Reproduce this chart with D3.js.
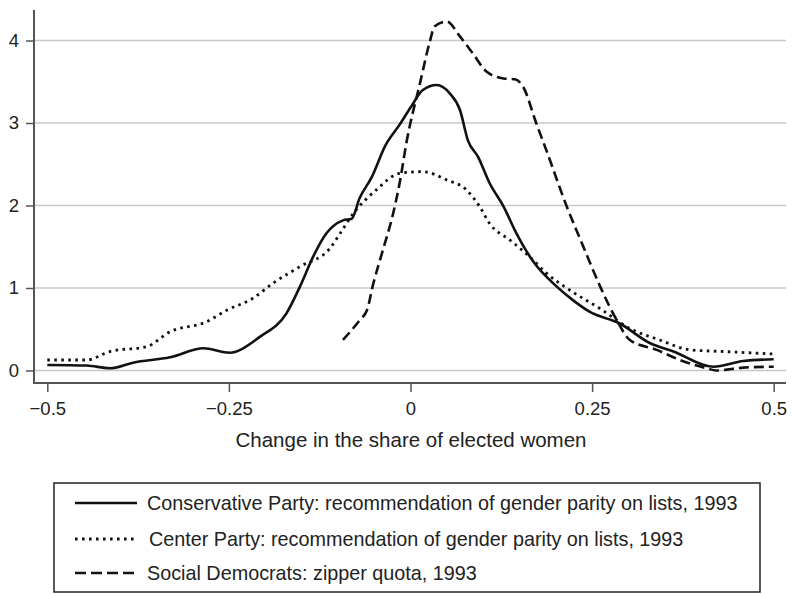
<!DOCTYPE html>
<html>
<head>
<meta charset="utf-8">
<script src="https://cdn.jsdelivr.net/npm/d3@7"></script>
<style>
  html, body { margin: 0; padding: 0; background: #fff; }
  svg { display: block; }
  text { font-family: "Liberation Sans", Arial, Helvetica, sans-serif; fill: #222; }
</style>
</head>
<body>
<svg id="chart" width="792" height="594"></svg>
<script>
// ---- data ----
const xTicks = [-0.5, -0.25, 0, 0.25, 0.5];
const xTickLabels = ["\u22120.5", "\u22120.25", "0", "0.25", "0.5"];
const yTicks = [0, 1, 2, 3, 4];
const yTickLabels = ["0", "1", "2", "3", "4"];
const xTitle = "Change in the share of elected women";
const seriesNames = [
  "Conservative Party: recommendation of gender parity on lists, 1993",
  "Center Party: recommendation of gender parity on lists, 1993",
  "Social Democrats: zipper quota, 1993"
];

const conservativeX = [-0.5, -0.446, -0.414, -0.382, -0.331, -0.285, -0.249, -0.207, -0.171, -0.152, -0.134, -0.116, -0.093, -0.081, -0.07, -0.053, -0.035, -0.015, 0.001, 0.017, 0.036, 0.054, 0.068, 0.079, 0.093, 0.109, 0.128, 0.146, 0.169, 0.201, 0.224, 0.247, 0.288, 0.33, 0.362, 0.417, 0.458, 0.5];
const conservativeY = [0.067, 0.06, 0.027, 0.095, 0.16, 0.27, 0.216, 0.41, 0.69, 1.02, 1.38, 1.66, 1.82, 1.84, 2.09, 2.35, 2.72, 2.98, 3.2, 3.4, 3.46, 3.36, 3.16, 2.79, 2.59, 2.27, 1.99, 1.66, 1.32, 1.02, 0.85, 0.71, 0.57, 0.33, 0.23, 0.046, 0.115, 0.136];

const centerX = [-0.5, -0.446, -0.414, -0.363, -0.331, -0.281, -0.253, -0.217, -0.189, -0.152, -0.111, -0.097, -0.079, -0.047, -0.015, 0.017, 0.05, 0.077, 0.095, 0.109, 0.137, 0.164, 0.187, 0.219, 0.261, 0.302, 0.343, 0.385, 0.431, 0.5];
const centerY = [0.127, 0.127, 0.23, 0.29, 0.47, 0.59, 0.73, 0.875, 1.06, 1.26, 1.48, 1.66, 1.9, 2.19, 2.39, 2.41, 2.31, 2.19, 1.99, 1.78, 1.58, 1.38, 1.18, 0.976, 0.75, 0.51, 0.37, 0.25, 0.23, 0.2];

const socdemX = [-0.093, -0.07, -0.06, -0.051, -0.038, -0.024, -0.015, -0.005, 0.013, 0.027, 0.033, 0.05, 0.068, 0.086, 0.105, 0.128, 0.144, 0.155, 0.173, 0.187, 0.215, 0.238, 0.261, 0.284, 0.302, 0.339, 0.371, 0.408, 0.421, 0.458, 0.5];
const socdemY = [0.37, 0.61, 0.73, 1.06, 1.46, 1.9, 2.27, 2.79, 3.48, 4.0, 4.17, 4.23, 4.05, 3.84, 3.62, 3.54, 3.53, 3.44, 3.0, 2.67, 1.99, 1.5, 1.02, 0.61, 0.37, 0.25, 0.127, 0.027, 0.0, 0.035, 0.046];

// ---- layout ----
const svg = d3.select("#chart");
const axisLeftX = 34, axisBottomY = 383, plotRight = 786, plotTop = 10;
const x = d3.scaleLinear().domain([-0.5, 0.5]).range([47.3, 773.7]);
const y = d3.scaleLinear().domain([0, 4]).range([370.5, 40.5]);
const axisColor = "#555";

// gridlines
svg.append("g").selectAll("line").data(yTicks).join("line")
  .attr("x1", axisLeftX).attr("x2", plotRight)
  .attr("y1", d => y(d)).attr("y2", d => y(d))
  .attr("stroke", "#c8c8c8").attr("stroke-width", 1.3);

// y axis
const yAxis = d3.axisLeft(y).tickValues(yTicks).tickFormat((d, i) => yTickLabels[i]).tickSize(8).tickPadding(7);
const gy = svg.append("g").attr("transform", `translate(${axisLeftX},0)`).call(yAxis);
gy.select(".domain").remove();
gy.selectAll(".tick line").attr("stroke", axisColor).attr("stroke-width", 1.5);
gy.selectAll(".tick text").attr("font-size", 18.5).attr("fill", "#222")
  .attr("font-family", "'Liberation Sans', Arial, sans-serif");
svg.append("line").attr("x1", axisLeftX).attr("x2", axisLeftX).attr("y1", plotTop).attr("y2", axisBottomY)
  .attr("stroke", axisColor).attr("stroke-width", 2);

// x axis
const xAxis = d3.axisBottom(x).tickValues(xTicks).tickFormat((d, i) => xTickLabels[i]).tickSize(9).tickPadding(10);
const gx = svg.append("g").attr("transform", `translate(0,${axisBottomY})`).call(xAxis);
gx.select(".domain").remove();
gx.selectAll(".tick line").attr("stroke", axisColor).attr("stroke-width", 1.5);
gx.selectAll(".tick text").attr("font-size", 18.5).attr("fill", "#222")
  .attr("font-family", "'Liberation Sans', Arial, sans-serif");
svg.append("line").attr("x1", axisLeftX - 1).attr("x2", plotRight).attr("y1", axisBottomY).attr("y2", axisBottomY)
  .attr("stroke", axisColor).attr("stroke-width", 2);

// x title
svg.append("text").attr("x", 411).attr("y", 447).attr("text-anchor", "middle")
  .attr("font-size", 20.5).text(xTitle);

// ---- curves ----
const line = d3.line().x(d => x(d[0])).y(d => y(d[1])).curve(d3.curveMonotoneX);
const styles = [
  { dash: null, width: 2.6 },
  { dash: "2.6,4.4", width: 2.8 },
  { dash: "10,5", width: 2.6 }
];
const series = [
  d3.zip(conservativeX, conservativeY),
  d3.zip(centerX, centerY),
  d3.zip(socdemX, socdemY)
];
series.forEach((s, i) => {
  svg.append("path").datum(s).attr("d", line)
    .attr("fill", "none").attr("stroke", "#111")
    .attr("stroke-width", styles[i].width)
    .attr("stroke-dasharray", styles[i].dash);
});

// ---- legend ----
const lg = svg.append("g");
lg.append("rect").attr("x", 54).attr("y", 483).attr("width", 706).attr("height", 109)
  .attr("fill", "#fff").attr("stroke", "#222").attr("stroke-width", 1.5);
const rowY = [503, 539, 573];
seriesNames.forEach((name, i) => {
  lg.append("line").attr("x1", 75).attr("x2", 137).attr("y1", rowY[i]).attr("y2", rowY[i])
    .attr("stroke", "#111").attr("stroke-width", styles[i].width)
    .attr("stroke-dasharray", i === 2 ? "11,5" : styles[i].dash);
  lg.append("text").attr("x", i === 1 ? 149 : 147).attr("y", rowY[i]).attr("dy", "0.35em")
    .attr("font-size", 19.8).text(name);
});
</script>
</body>
</html>
